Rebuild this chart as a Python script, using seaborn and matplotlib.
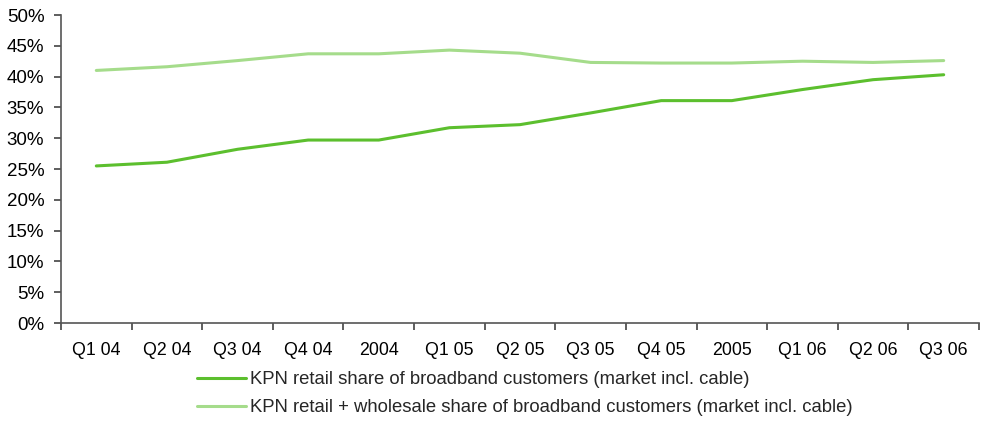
import matplotlib
matplotlib.use("Agg")
import matplotlib.pyplot as plt
import seaborn as sns
import pandas as pd
import numpy as np
from matplotlib.ticker import FixedLocator, NullFormatter, FixedFormatter
from matplotlib.lines import Line2D

categories = ["Q1 04", "Q2 04", "Q3 04", "Q4 04", "2004", "Q1 05", "Q2 05",
              "Q3 05", "Q4 05", "2005", "Q1 06", "Q2 06", "Q3 06"]
retail = [25.5, 26.1, 28.2, 29.7, 29.7, 31.7, 32.2, 34.1, 36.1, 36.1, 37.9, 39.5, 40.3]
retail_wholesale = [41.0, 41.6, 42.6, 43.7, 43.7, 44.3, 43.8, 42.3, 42.2, 42.2, 42.5, 42.3, 42.6]
series_names = ["KPN retail share of broadband customers (market incl. cable)",
                "KPN retail + wholesale share of broadband customers (market incl. cable)"]
yticks = [0, 5, 10, 15, 20, 25, 30, 35, 40, 45, 50]

sns.set_style("white")
plt.rcParams["font.family"] = ["Liberation Sans", "DejaVu Sans"]

df = pd.DataFrame({
    "x": list(range(len(categories))) * 2,
    "value": retail + retail_wholesale,
    "series": [series_names[0]] * len(categories) + [series_names[1]] * len(categories),
})

fig = plt.figure(figsize=(9.88, 4.23), dpi=100)
ax = fig.add_axes([61 / 988, 1 - 323 / 423, (979 - 61) / 988, (323 - 15) / 423])

palette = {series_names[0]: "#5cbf2e", series_names[1]: "#a5dc8b"}
sns.lineplot(data=df, x="x", y="value", hue="series", palette=palette,
             linewidth=2.2, ax=ax, legend=False, sort=False)

ax.set_xlim(-0.5, len(categories) - 0.5)
ax.set_ylim(0, 50)
ax.set_yticks(yticks)
ax.set_yticklabels([f"{t}%" for t in yticks], fontsize=13.5, color="#000000")

ax.xaxis.set_major_locator(FixedLocator(np.arange(-0.5, len(categories), 1.0)))
ax.xaxis.set_major_formatter(NullFormatter())
ax.xaxis.set_minor_locator(FixedLocator(np.arange(len(categories))))
ax.xaxis.set_minor_formatter(FixedFormatter(categories))
ax.tick_params(axis="x", which="minor", bottom=True, length=0, labelsize=12.8, pad=14,
               labelcolor="#000000")
ax.tick_params(axis="x", which="major", bottom=True, length=5, width=1.1, color="#333333",
               direction="out")
ax.tick_params(axis="y", which="major", left=True, length=5, width=1.1, color="#333333",
               direction="out", pad=7)
ax.set_xlabel("")
ax.set_ylabel("")

for s in ["top", "right"]:
    ax.spines[s].set_visible(False)
for s in ["left", "bottom"]:
    ax.spines[s].set_color("#555555")
    ax.spines[s].set_linewidth(1.2)

handles = [Line2D([0], [0], color=palette[n], lw=2.2) for n in series_names]
fig.legend(handles, series_names, loc="upper left", bbox_to_anchor=(197 / 988, 1 - 371 / 423),
           frameon=False, fontsize=13.3, handlelength=2.65, handletextpad=0.2,
           borderpad=0, borderaxespad=0, labelspacing=0.62)

fig.savefig("out.png", dpi=100)
